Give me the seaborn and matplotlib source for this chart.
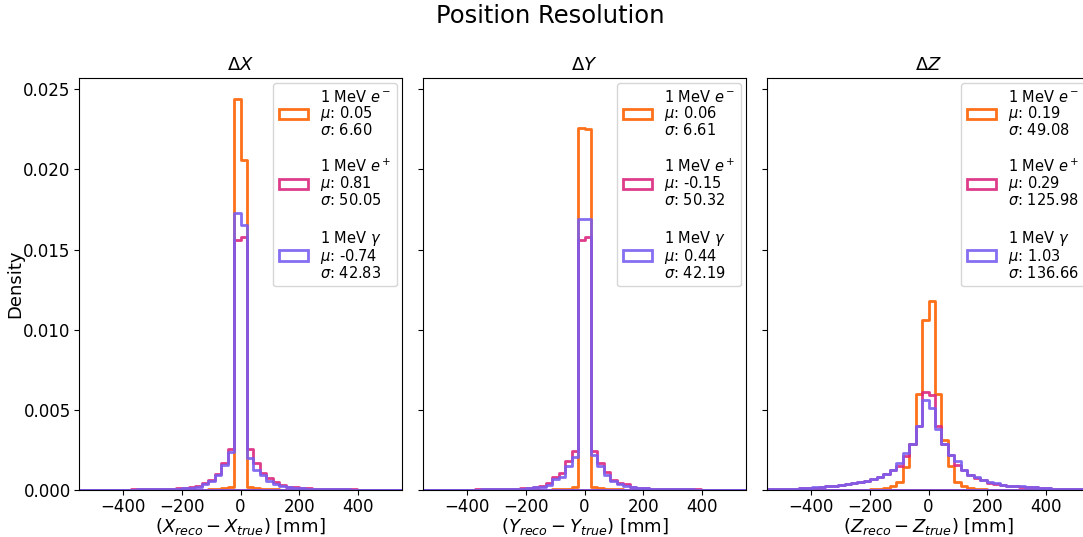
import numpy as np
import matplotlib
matplotlib.use("Agg")
import matplotlib.pyplot as plt
from matplotlib.patches import Patch
from matplotlib.colors import to_rgba
import seaborn as sns

# ---------------- data ----------------
BIN_LO, BIN_HI, N_BINS = -550, 550, 50

series_names = ["1 MeV $e^-$", "1 MeV $e^+$", "1 MeV $\\gamma$"]
series_colors = ["#FE6100", "#DC267F", "#785EF0"]

panel_titles = ["$\\Delta X$", "$\\Delta Y$", "$\\Delta Z$"]
panel_xlabels = ["$(X_{reco} - X_{true})$ [mm]",
                 "$(Y_{reco} - Y_{true})$ [mm]",
                 "$(Z_{reco} - Z_{true})$ [mm]"]

# legend statistics (mu, sigma) per panel, per series
mu_x = ["0.05", "0.81", "-0.74"]
sigma_x = ["6.60", "50.05", "42.83"]
mu_y = ["0.06", "-0.15", "0.44"]
sigma_y = ["6.61", "50.32", "42.19"]
mu_z = ["0.19", "0.29", "1.03"]
sigma_z = ["49.08", "125.98", "136.66"]

# densities per bin (50 bins of 22 mm from -550 to 550)
dx_electron = [0, 0, 0, 0, 0, 0, 0, 0, 0, 0,
               0, 0, 0, 0, 0, 0.00001, 0.00001, 0.00002, 0.00002, 0.00003,
               0.00004, 0.00006, 0.0001, 0.00018, 0.0244,
               0.0206, 0.00018, 0.0001, 0.00007, 0.00005,
               0.00004, 0.00003, 0.00002, 0.00001, 0.00001,
               0, 0, 0, 0, 0, 0, 0, 0, 0, 0, 0, 0, 0, 0, 0]
dx_positron = [0.00001, 0.00002, 0.00002, 0.00002, 0.00002, 0.00003, 0.00003, 0.00003, 0.00004, 0.00004,
               0.00005, 0.00005, 0.00006, 0.00007, 0.00008, 0.0001, 0.00012, 0.00019, 0.00027, 0.00041,
               0.00062, 0.001, 0.0017, 0.00253, 0.0156,
               0.0158, 0.00253, 0.0017, 0.00104, 0.00072,
               0.00048, 0.00031, 0.0002, 0.00017, 0.00012,
               0.0001, 0.00008, 0.00007, 0.00006, 0.00005,
               0.00005, 0.00004, 0.00004, 0.00003, 0.00003,
               0.00003, 0.00002, 0.00002, 0.00002, 0.00001]
dx_gamma = [0.00001, 0.00001, 0.00002, 0.00002, 0.00002, 0.00002, 0.00003, 0.00003, 0.00003, 0.00004,
            0.00004, 0.00005, 0.00005, 0.00006, 0.00007, 0.00008, 0.0001, 0.00015, 0.0002, 0.00035,
            0.00058, 0.00093, 0.00155, 0.00234, 0.0173,
            0.0165, 0.00197, 0.00124, 0.00095, 0.00056,
            0.00035, 0.00025, 0.0002, 0.00015, 0.0001,
            0.00008, 0.00007, 0.00006, 0.00005, 0.00005,
            0.00004, 0.00004, 0.00003, 0.00003, 0.00003,
            0.00002, 0.00002, 0.00002, 0.00001, 0.00001]

dy_electron = [0, 0, 0, 0, 0, 0, 0, 0, 0, 0,
               0, 0, 0, 0, 0, 0.00001, 0.00001, 0.00002, 0.00002, 0.00003,
               0.00004, 0.00005, 0.00008, 0.00017, 0.0226,
               0.0225, 0.0002, 0.0001, 0.00007, 0.00005,
               0.00004, 0.00003, 0.00002, 0.00001, 0.00001,
               0, 0, 0, 0, 0, 0, 0, 0, 0, 0, 0, 0, 0, 0, 0]
dy_positron = [0.00001, 0.00002, 0.00002, 0.00002, 0.00002, 0.00003, 0.00003, 0.00003, 0.00004, 0.00004,
               0.00005, 0.00005, 0.00006, 0.00007, 0.00008, 0.0001, 0.00014, 0.00019, 0.00027, 0.00046,
               0.00079, 0.00108, 0.0018, 0.00244, 0.0156,
               0.0158, 0.00244, 0.0017, 0.0011, 0.00062,
               0.00046, 0.00035, 0.0002, 0.00014, 0.00011,
               0.00009, 0.00008, 0.00007, 0.00006, 0.00005,
               0.00005, 0.00004, 0.00004, 0.00003, 0.00003,
               0.00003, 0.00002, 0.00002, 0.00002, 0.00001]
dy_gamma = [0.00001, 0.00001, 0.00002, 0.00002, 0.00002, 0.00002, 0.00003, 0.00003, 0.00003, 0.00004,
            0.00004, 0.00005, 0.00005, 0.00006, 0.00007, 0.00008, 0.00012, 0.00017, 0.0002, 0.0003,
            0.00068, 0.00083, 0.0015, 0.00203, 0.0169,
            0.0169, 0.00217, 0.0015, 0.00093, 0.00058,
            0.0004, 0.00027, 0.0002, 0.00014, 0.0001,
            0.00008, 0.00007, 0.00006, 0.00005, 0.00005,
            0.00004, 0.00004, 0.00003, 0.00003, 0.00003,
            0.00002, 0.00002, 0.00002, 0.00001, 0.00001]

dz_electron = [0.00001, 0.00001, 0.00001, 0.00001, 0.00001, 0.00001, 0.00002, 0.00002, 0.00002, 0.00002,
               0.00002, 0.00002, 0.00003, 0.00003, 0.00003, 0.00003, 0.00004, 0.00005, 0.0001, 0.00027,
               0.0005, 0.00145, 0.0029, 0.006, 0.0106,
               0.0118, 0.006, 0.0031, 0.0015, 0.00052,
               0.00025, 0.0001, 0.00005, 0.00004, 0.00003,
               0.00003, 0.00003, 0.00002, 0.00002, 0.00002,
               0.00002, 0.00002, 0.00001, 0.00001, 0.00001,
               0.00001, 0.00001, 0.00001, 0.00001, 0.00001]
dz_positron = [0.00004, 0.00006, 0.00006, 0.00008, 0.00008, 0.0001, 0.00012, 0.00015, 0.00019, 0.00023,
               0.00025, 0.00029, 0.00035, 0.00041, 0.00048, 0.00056, 0.00068, 0.00079, 0.001, 0.00124,
               0.0015, 0.0021, 0.0029, 0.004, 0.0061,
               0.0059, 0.004, 0.0029, 0.0022, 0.00155,
               0.00124, 0.00093, 0.00077, 0.00062, 0.00046,
               0.0004, 0.00031, 0.00027, 0.00025, 0.00021,
               0.0002, 0.00017, 0.00012, 0.0001, 0.00008,
               0.00006, 0.00006, 0.00005, 0.00004, 0.00003]
dz_gamma = [0.00004, 0.00006, 0.00007, 0.00008, 0.00009, 0.00011, 0.00013, 0.00016, 0.0002, 0.00023,
            0.00026, 0.0003, 0.00035, 0.00041, 0.00049, 0.00057, 0.00069, 0.00081, 0.001, 0.00124,
            0.00166, 0.0023, 0.0029, 0.004, 0.0056,
            0.0051, 0.0038, 0.0029, 0.0022, 0.0018,
            0.00124, 0.00095, 0.00078, 0.00063, 0.00048,
            0.00041, 0.00033, 0.00028, 0.00025, 0.00022,
            0.0002, 0.00017, 0.00013, 0.0001, 0.00008,
            0.00007, 0.00006, 0.00005, 0.00004, 0.00003]

panel_data = [[dx_electron, dx_positron, dx_gamma],
              [dy_electron, dy_positron, dy_gamma],
              [dz_electron, dz_positron, dz_gamma]]
panel_mu = [mu_x, mu_y, mu_z]
panel_sigma = [sigma_x, sigma_y, sigma_z]

# ---------------- plot ----------------
edges = [float(e) for e in np.linspace(BIN_LO, BIN_HI, N_BINS + 1)]
centers = [0.5 * (a + b) for a, b in zip(edges[:-1], edges[1:])]

W, H = 1083, 537
fig = plt.figure(figsize=(W / 100, H / 100), dpi=100)

ax_w = 323 / W
ax_h = 412 / H
ax_b = 47 / H
lefts = [79 / W, 423 / W, 767 / W]
axes = []
for i, l in enumerate(lefts):
    if i == 0:
        ax = fig.add_axes([l, ax_b, ax_w, ax_h])
    else:
        ax = fig.add_axes([l, ax_b, ax_w, ax_h], sharey=axes[0])
    axes.append(ax)

for p, ax in enumerate(axes):
    handles, labels = [], []
    for s in range(3):
        vals = panel_data[p][s]
        col = series_colors[s]
        sns.histplot(x=centers, weights=vals, bins=edges, stat="count",
                     element="step", fill=True, color=col, facecolor="none",
                     edgecolor=to_rgba(col, 0.9), linewidth=2, ax=ax)
        handles.append(Patch(facecolor="none", edgecolor=to_rgba(col, 0.9), linewidth=2))
        labels.append(f"{series_names[s]}\n$\\mu$: {panel_mu[p][s]}\n$\\sigma$: {panel_sigma[p][s]}")
    ax.set_xlim(BIN_LO, BIN_HI)
    ax.set_ylim(0, 0.0257)
    ax.set_title(panel_titles[p], fontsize=13)
    ax.set_xticks([-400, -200, 0, 200, 400])
    ax.tick_params(axis="x", labelsize=12, pad=2.5)
    ax.tick_params(axis="y", labelsize=12, pad=2.5)
    ax.set_xlabel(panel_xlabels[p], fontsize=13, labelpad=0)
    if p == 0:
        ax.set_ylabel("Density", fontsize=13, labelpad=-1)
    else:
        ax.set_ylabel("")
        ax.tick_params(labelleft=False)
    leg = ax.legend(handles, labels, loc="upper right", fontsize=10.5,
                    labelspacing=1.4, borderaxespad=0.35)
    for t in leg.get_texts():
        t.set_linespacing(0.92)

axes[0].set_yticks([0, 0.005, 0.01, 0.015, 0.02, 0.025])
fig.suptitle("Position Resolution", fontsize=17.5, x=550 / W, y=0.993)

fig.savefig("out.png", dpi=100)
